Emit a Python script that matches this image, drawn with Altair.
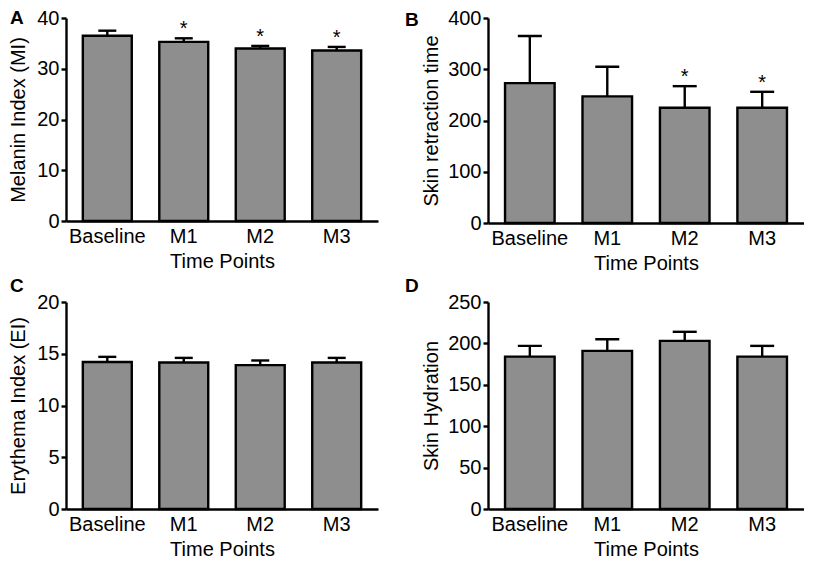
import altair as alt
import pandas as pd

FONT = "Liberation Sans"

categories = ["Baseline", "M1", "M2", "M3"]

melanin_mean = [36.5, 35.3, 34.0, 33.6]
melanin_upper = [37.5, 36.0, 34.5, 34.3]
melanin_sig = ["", "*", "*", "*"]

retraction_mean = [273, 247, 225, 225]
retraction_upper = [365, 305, 267, 256]
retraction_sig = ["", "", "*", "*"]

erythema_mean = [14.2, 14.15, 13.9, 14.15]
erythema_upper = [14.7, 14.6, 14.35, 14.6]
erythema_sig = ["", "", "", ""]

hydration_mean = [184, 191, 203, 184]
hydration_upper = [197, 205, 214, 197]
hydration_sig = ["", "", "", ""]


def panel(letter, ytitle, mean, upper, sig, ymax, ystep, cap, letter_x, letter_y, width, height, title_pad):
    df = pd.DataFrame({"cat": categories, "mean": mean, "upper": upper, "sig": sig})
    xenc = alt.X(
        "cat:N",
        sort=categories,
        scale=alt.Scale(paddingInner=0.36, paddingOuter=0.22),
        axis=alt.Axis(
            title="Time Points",
            labelAngle=0,
            ticks=False,
            labelPadding=5,
            titlePadding=5,
        ),
    )
    yscale = alt.Scale(domain=[0, ymax], nice=False)
    yaxis = alt.Axis(
        title=ytitle,
        values=list(range(0, ymax + 1, ystep)),
        ticks=True,
        tickSize=5,
        labelPadding=2,
        titlePadding=title_pad,
    )
    base = alt.Chart(df)
    bars = base.mark_bar(fill="#8e8e8e", stroke="black", strokeWidth=2.4).encode(
        x=xenc, y=alt.Y("mean:Q", scale=yscale, axis=yaxis)
    )
    rule = base.mark_rule(color="black", strokeWidth=2.4).encode(
        x=alt.X("cat:N", sort=categories), y="mean:Q", y2="upper:Q"
    )
    caps = base.mark_tick(color="black", thickness=2.4, size=cap, opacity=1).encode(
        x=alt.X("cat:N", sort=categories), y="upper:Q"
    )
    stars = base.mark_text(fontSize=20, font=FONT, color="black", baseline="alphabetic", dy=-3).encode(
        x=alt.X("cat:N", sort=categories), y="upper:Q", text="sig:N"
    )
    lab = alt.Chart(pd.DataFrame({"t": [letter]})).mark_text(
        fontSize=19, fontWeight="bold", font=FONT, color="black", align="left", baseline="middle"
    ).encode(x=alt.value(letter_x), y=alt.value(letter_y), text="t:N")
    return alt.layer(bars, rule, caps, stars, lab).properties(width=width, height=height)


pA = panel("A", "Melanin Index (MI)", melanin_mean, melanin_upper, melanin_sig, 40, 10, 18, -56, 0, 312, 203, 8)
pB = panel("B", "Skin retraction time", retraction_mean, retraction_upper, retraction_sig, 400, 100, 24, -83, 2, 316, 205, 6)
pC = panel("C", "Erythema Index (EI)", erythema_mean, erythema_upper, erythema_sig, 20, 5, 18, -56, -16, 312, 207, 8)
pD = panel("D", "Skin Hydration", hydration_mean, hydration_upper, hydration_sig, 250, 50, 24, -83, -16, 316, 207, 6)

chart = alt.vconcat(
    alt.hconcat(pA, pB, spacing=27),
    alt.hconcat(pC, pD, spacing=27),
    spacing=4,
).properties(padding={"left": 0, "top": 0, "right": 0, "bottom": 0}).configure_axis(
    labelFont=FONT,
    titleFont=FONT,
    labelFontSize=20,
    titleFontSize=20,
    titleFontWeight="normal",
    labelColor="black",
    titleColor="black",
    domainColor="black",
    domainWidth=2.4,
    tickColor="black",
    tickWidth=2.4,
    grid=False,
).configure_view(stroke=None)

chart.save("out.html", embed_options={"renderer": "svg", "actions": False})
